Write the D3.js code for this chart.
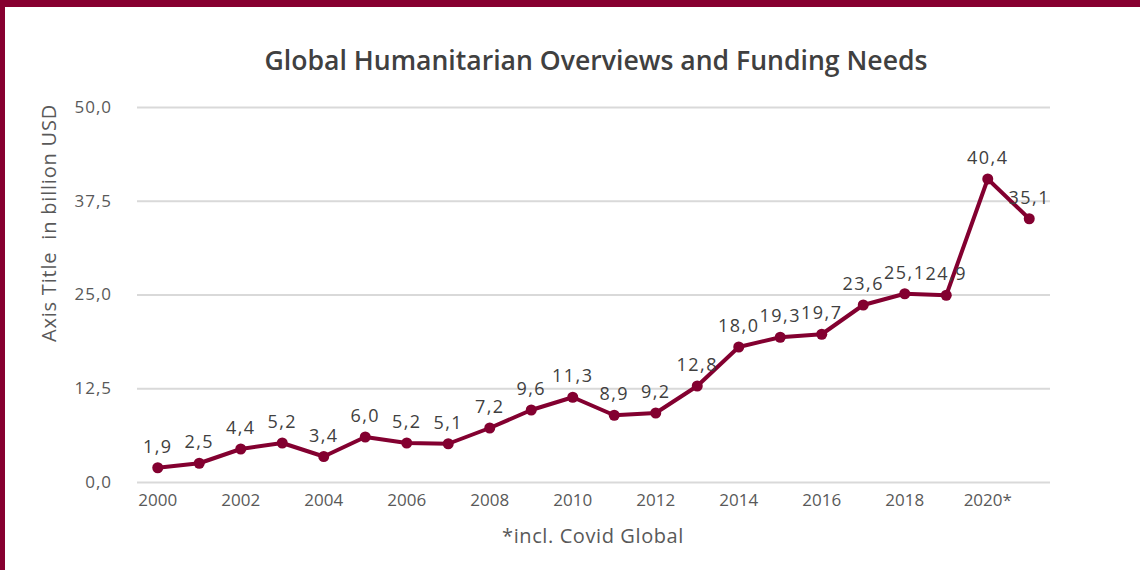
<!DOCTYPE html>
<html>
<head>
<meta charset="utf-8">
<script src="https://cdn.jsdelivr.net/npm/d3@7"></script>
<style>
  html, body { margin: 0; padding: 0; background: #fff; }
  svg { display: block; font-family: "Open Sans", "Noto Sans", sans-serif; }
</style>
</head>
<body>
<svg id="chart" width="1140" height="570"></svg>
<script>
// Humanitarian funding requirements per year, billion USD
const years = ["2000","2001","2002","2003","2004","2005","2006","2007","2008","2009","2010",
               "2011","2012","2013","2014","2015","2016","2017","2018","2019","2020","2021"];
const needs = [1.9, 2.5, 4.4, 5.2, 3.4, 6.0, 5.2, 5.1, 7.2, 9.6, 11.3,
               8.9, 9.2, 12.8, 18.0, 19.3, 19.7, 23.6, 25.1, 24.9, 40.4, 35.1];
const xTickLabels = ["2000","2002","2004","2006","2008","2010","2012","2014","2016","2018","2020*"];
const yTicks = [0, 12.5, 25, 37.5, 50];

const W = 1140, H = 570;
const margin = { left: 137, right: 90, top: 107, bottom: 88 };
const maroon = "#830030";
const fmt = v => v.toFixed(1).replace(".", ",");

const svg = d3.select("#chart");

// frame: top bar and left edge
svg.append("rect").attr("x", 0).attr("y", 0).attr("width", W).attr("height", 7).attr("fill", "#870030");
svg.append("rect").attr("x", 0).attr("y", 0).attr("width", 5).attr("height", H).attr("fill", "#870030");

const x = d3.scaleBand().domain(years).range([margin.left, W - margin.right]);
const y = d3.scaleLinear().domain([0, 50]).range([H - margin.bottom, margin.top]);
const cx = d => x(d) + x.bandwidth() / 2;

// title
svg.append("text")
  .attr("x", 596).attr("y", 70)
  .attr("text-anchor", "middle")
  .attr("font-size", 26.6).attr("font-weight", 600)
  .attr("fill", "#404040")
  .text("Global Humanitarian Overviews and Funding Needs");

// horizontal gridlines + y labels
const yAxis = d3.axisLeft(y).tickValues(yTicks).tickSize(-(W - margin.right - margin.left)).tickFormat(fmt).tickPadding(25);
const gy = svg.append("g").attr("transform", `translate(${margin.left},0)`).call(yAxis);
gy.select(".domain").remove();
gy.selectAll(".tick line").attr("stroke", "#d9d9d9").attr("stroke-width", 2);
gy.selectAll(".tick text").attr("fill", "#595959").attr("font-size", 17)
  .attr("font-family", "'Open Sans', sans-serif").attr("letter-spacing", "1px");

// x labels, every other year
const labelFor = d => {
  const i = years.indexOf(d);
  return i % 2 === 0 ? xTickLabels[i / 2] : "";
};
const xAxis = d3.axisBottom(x).tickSize(0).tickPadding(12).tickFormat(labelFor);
const gx = svg.append("g").attr("transform", `translate(0,${H - margin.bottom})`).call(xAxis);
gx.select(".domain").remove();
gx.selectAll(".tick text").attr("fill", "#595959").attr("font-size", 17)
  .attr("font-family", "'Open Sans', sans-serif").attr("letter-spacing", "0px");

// axis title
svg.append("text")
  .attr("transform", `translate(56,223) rotate(-90)`)
  .attr("text-anchor", "middle")
  .attr("font-size", 20).attr("fill", "#595959")
  .attr("letter-spacing", "0.8px")
  .style("white-space", "pre")
  .text("Axis Title  in billion USD");

// footnote
svg.append("text")
  .attr("x", 593).attr("y", 543)
  .attr("text-anchor", "middle")
  .attr("font-size", 20).attr("fill", "#595959")
  .attr("letter-spacing", "0.6px")
  .text("*incl. Covid Global");

// line
const line = d3.line().x((d, i) => cx(years[i])).y(d => y(d));
svg.append("path")
  .datum(needs)
  .attr("d", line)
  .attr("fill", "none")
  .attr("stroke", maroon)
  .attr("stroke-width", 4)
  .attr("stroke-linejoin", "round");

// markers
svg.selectAll("circle.pt")
  .data(needs)
  .join("circle")
  .attr("class", "pt")
  .attr("cx", (d, i) => cx(years[i]))
  .attr("cy", d => y(d))
  .attr("r", 5.5)
  .attr("fill", maroon);

// value labels
svg.selectAll("text.val")
  .data(needs)
  .join("text")
  .attr("class", "val")
  .attr("x", (d, i) => cx(years[i]))
  .attr("y", d => y(d) - 15)
  .attr("text-anchor", "middle")
  .attr("font-size", 18)
  .attr("fill", "#404040")
  .attr("letter-spacing", "1.5px")
  .text(fmt);
</script>
</body>
</html>
